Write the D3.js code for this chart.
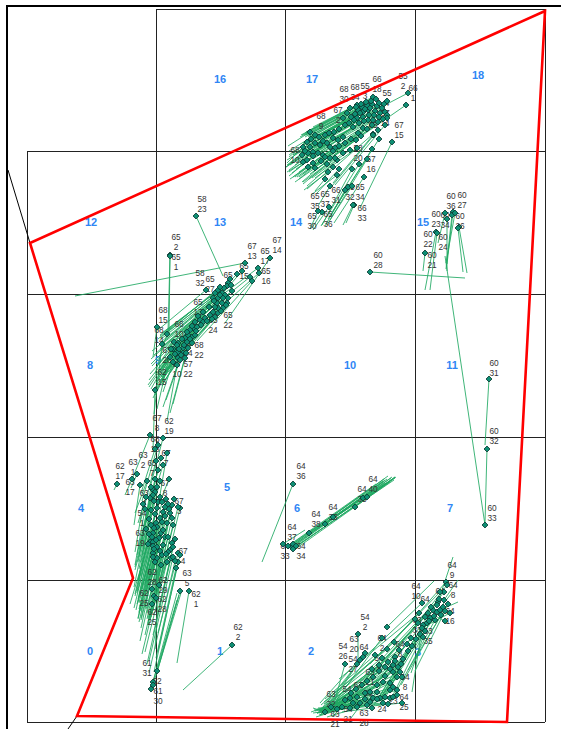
<!DOCTYPE html>
<html><head><meta charset="utf-8">
<script src="https://cdn.jsdelivr.net/npm/d3@7/dist/d3.min.js"></script>
<style>html,body{margin:0;padding:0;background:#fff}svg{display:block}</style>
</head><body><div id="c"></div>
<script>
// survey coordinates: [x, y, shiftX, shiftY]
const northCluster = [[346,88,-60,30],[360,92,-62,32],[381,84,-80,42],[379,96,-72,50],[323,99,-44,24],[330,96,-52,28],[335,98,-56,28],[340,96,-58,31],[345,95,-62,33],[350,97,-64,33],[355,99,-66,36],[331,101,-50,27],[336,103,-54,29],[341,101,-60,32],[348,102,-62,34],[353,104,-66,35],[358,103,-68,38],[360,106,-64,40],[316,109,-36,22],[320,104,-42,24],[330,109,-48,27],[336,108,-52,30],[341,111,-56,32],[346,111,-60,34],[351,113,-62,38],[326,118,-44,30],[331,124,-42,34],[336,119,-50,36],[346,125,-48,42],[283,123,-22,14],[288,126,-26,16],[280,133,-18,15],[276,138,-16,16],[283,138,-22,18],[288,134,-28,17],[293,136,-30,20],[298,126,-32,20],[306,129,-36,24],[303,138,-34,22],[308,139,-36,24],[286,143,-24,18],[291,144,-26,20],[296,146,-30,22],[303,149,-28,24],[310,151,-30,26],[316,144,-34,26],[323,141,-38,28],[330,139,-42,30],[280,151,-20,12],[286,154,-18,14],[275,146,-16,12],[281,144,-22,14],[276,153,-14,10],[316,128,-40,26],[311,131,-38,25],[281,158,-18,12],[288,159,-20,14],[298,148,-28,20],[308,149,-32,24],[301,163,-24,18],[310,166,-26,20],[298,170,-10,12],[303,177,-12,20],[337,168,-30,46],[321,178,-18,30],[325,177,-22,34],[318,181,-20,36],[327,196,-8,18],[326,196,-10,20],[302,198,-16,23],[295,203,-10,16],[291,202,-8,18],[365,133,-32,66],[346,126,-40,48],[358,116,-50,60],[351,121,-46,56],[360,109,-70,46],
[349,90,-68,36],[344,92,-66,34],[339,93,-64,33],[334,95,-60,31],[329,98,-56,30],[352,94,-70,37],[357,95,-72,40],[343,99,-64,35],[338,100,-62,34],[333,104,-56,32],[328,105,-52,30],[324,108,-48,28],[347,106,-68,40],[342,106,-62,36],[337,112,-58,36],[332,114,-52,34],[327,111,-50,32],[322,114,-44,28],[352,108,-66,42],[356,110,-60,44],[318,116,-38,26],[312,120,-34,24],[307,123,-32,22],[302,124,-30,20],[296,132,-28,20],[292,128,-26,18],[300,134,-32,22],[306,142,-34,26],[312,137,-36,28],[318,134,-38,28],[324,130,-42,30],[329,131,-46,34],[334,127,-48,36],[340,120,-52,38],[345,116,-56,40],[286,147,-24,20],[278,142,-18,14],[284,130,-22,16],[294,152,-22,18],[300,155,-24,20],[306,158,-26,22],[312,160,-22,24],[340,150,-40,66],[332,155,-38,62],[325,160,-30,56],[345,140,-44,70],[352,130,-46,72]];
const centreCluster = [[169,207,27,60],[143,246,-2,78],[143,247,-1,76],[218,254,-170,33],[243,249,-45,65],[223,268,-50,40],[231,259,-56,42],[232,264,-52,46],[201,274,-66,50],[200,277,-60,46],[179,281,-48,40],[188,284,-55,42],[191,281,-58,46],[195,284,-60,48],[198,286,-62,48],[186,289,-50,44],[191,289,-55,48],[196,289,-58,50],[201,289,-60,52],[190,294,-50,46],[195,294,-52,50],[200,294,-55,50],[191,299,-50,50],[196,299,-48,52],[186,303,-46,46],[191,304,-44,48],[183,306,-42,46],[178,309,-40,44],[188,308,-42,50],[173,311,-38,44],[168,313,-36,42],[176,313,-38,46],[166,319,-34,40],[163,321,-30,40],[170,318,-36,42],[161,326,-28,38],[165,328,-30,38],[158,329,-26,36],[168,326,-32,40],[147,333,-18,26],[151,334,-20,30],[160,333,-26,34],[165,334,-28,34],[156,339,-22,32],[161,339,-26,36],[151,343,-18,30],[156,344,-20,30],[151,349,-16,28],[143,348,-14,26],[146,353,-10,30],[153,351,-14,40],[158,349,-12,46],[140,325,-12,40],[130,318,-4,30],[128,381,-2,60],
[204,276,-70,54],[197,279,-64,50],[193,286,-68,56],[187,292,-60,54],[182,298,-58,52],[176,303,-52,52],[171,307,-46,50],[165,317,-42,48],[160,323,-38,48],[155,330,-34,46],[150,336,-28,42],[146,340,-22,40],[193,278,-62,52],[205,282,-72,58],[199,296,-62,60],[194,302,-56,60],[188,298,-52,56],[185,310,-50,58],[180,312,-46,56],[174,316,-44,54],[169,322,-40,52],[163,330,-36,50],[157,336,-30,48],[152,340,-24,46],[148,345,-22,44],[154,346,-18,52],[159,344,-16,60],[144,340,-14,60],[135,335,-8,70],[150,356,-10,56],[203,270,-55,70],[210,265,-60,62],[215,262,-50,58],[225,272,-55,60]];
const westCluster = [[123,426,-17,42],[136,429,-13,50],[140,444,-10,60],[134,449,-15,60],[131,461,-12,52],[110,465,-6,14],[105,470,-7,16],[120,472,-12,32],[90,475,-3,6],[125,480,-15,66],[130,478,-14,62],[128,483,-14,70],[126,486,-18,72],[123,489,-12,64],[119,488,-8,26],[131,493,-20,78],[135,493,-16,70],[153,499,-14,58],[151,498,-16,64],[145,496,-14,72],[141,495,-18,80],[138,498,-20,76],[130,499,-16,68],[136,503,-18,72],[143,504,-14,66],[138,507,-18,74],[145,509,-18,82],[124,501,-16,60],[122,510,-10,50],[135,513,-16,70],[129,514,-14,66],[130,518,-18,76],[126,524,-16,60],[134,524,-16,74],[138,528,-14,70],[125,528,-14,62],[123,533,-16,66],[121,535,-18,60],[126,533,-14,70],[126,537,-16,58],[130,538,-18,66],[136,536,-16,74],[145,534,-20,70],[146,538,-14,60],[143,541,-16,52],[141,543,-18,64],[126,544,-14,56],[130,549,-16,62],[126,548,-12,54],[135,546,-14,70],[151,544,-20,80],[153,546,-22,96],[151,553,-24,110],[149,559,-20,90],[132,576,-4,64],[125,580,-6,20],[153,582,-22,78],[162,582,-12,72],[127,587,-4,24],[129,589,-6,22],[125,595,-4,14],[130,662,22,-76],[126,673,24,-82],[126,676,28,-92],[124,680,26,-96],[205,636,-49,45],
[128,470,-16,70],[124,478,-12,70],[133,472,-18,74],[127,492,-16,80],[133,488,-22,84],[139,490,-24,88],[147,490,-22,86],[142,500,-24,86],[128,505,-20,82],[133,509,-22,84],[140,514,-20,90],[146,516,-22,92],[127,519,-18,82],[124,516,-14,66],[132,529,-20,84],[136,521,-22,88],[129,531,-18,78],[141,528,-20,86],[148,530,-22,96],[127,540,-16,70],[133,542,-20,90],[139,545,-24,100],[144,549,-24,106],[148,552,-26,112],[128,553,-14,66],[134,556,-16,70],[140,553,-22,90],[146,548,-24,104],[122,525,-14,60],[119,520,-12,58],[118,500,-10,56],[116,495,-8,48],[113,476,-6,40],[142,470,-12,30],[128,440,-14,44],[131,436,-16,56],[136,456,-18,60],[129,452,-16,62]];
const southCluster = [[331,625,0,28],[318,655,-10,36],[330,655,-28,40],[333,651,-34,52],[336,648,-40,50],[338,644,-45,50],[348,646,-50,44],[355,649,-58,46],[355,629,-50,68],[367,633,-70,60],[384,629,-60,80],[361,653,-60,40],[366,656,-70,46],[371,658,-60,40],[366,663,-62,34],[373,663,-70,36],[370,668,-66,30],[375,668,-74,30],[358,667,-50,30],[363,674,-56,28],[356,673,-50,26],[350,676,-46,24],[366,678,-62,20],[370,681,-70,22],[363,681,-60,20],[350,683,-50,18],[343,683,-46,16],[338,684,-40,20],[330,688,-36,16],[323,689,-30,14],[318,691,-34,12],[333,694,-44,14],[343,693,-56,8],[346,689,-52,14],[358,688,-60,14],[363,689,-40,-4],[370,686,-70,18],[375,694,-80,8],[345,699,-30,4],[330,698,-44,6],[323,699,-30,2],[298,703,-12,-4],[353,689,-54,6],[366,688,-66,20],[419,573,-60,68],[420,576,-50,64],[417,583,-56,70],[413,583,-70,72],[395,594,-66,62],[411,593,-44,70],[410,596,16,-48],[416,598,-46,60],[406,601,-60,78],[410,603,14,-18],[401,604,-66,70],[398,608,-70,74],[403,609,-58,80],[408,611,-40,74],[400,614,-48,78],[396,616,-44,72],[395,619,-10,64],[391,614,-56,60],[360,618,47,-46],[413,601,18,-8],[417,591,14,-20],[396,628,-12,36],
[368,648,-78,56],[372,641,-80,60],[380,635,-74,72],[376,650,-70,54],[360,640,-66,56],[352,656,-60,46],[345,660,-52,46],[358,658,-62,44],[368,652,-72,50],[363,660,-62,40],[374,655,-66,44],[352,662,-54,38],[346,668,-50,34],[340,672,-46,30],[335,676,-42,28],[329,680,-34,22],[324,684,-30,18],[338,690,-48,14],[350,690,-62,12],[356,694,-66,6],[361,695,-70,4],[340,696,-50,8],[326,694,-34,10],[315,698,-22,8],[310,700,-18,6],[304,698,-14,6],[407,607,-52,84],[402,612,-50,80],[398,622,-36,72],[393,625,-40,64],[389,630,-34,60],[385,637,-30,58],[381,642,-34,54],[412,590,-70,80],[404,598,-72,76],[392,604,-80,66],[388,610,-70,68],[414,606,-40,70],[418,602,-30,60],[421,595,-40,66],[418,612,-12,-6],[423,604,-30,16]];
const midCluster = [[266,475,-31,78],[256,535,22,-14],[265,538,100,-70],[266,535,95,-68],[266,540,103,-72],[261,537,88,-62],[269,537,98,-66],[282,524,76,-50],[298,515,60,-44],[306,508,60,-38],[328,498,40,-30],[336,489,28,-18],[340,488,28,-20]];
const midRepeatLines = [[266,538,98,-69],[265,536,92,-66],[267,541,96,-68],[268,535,88,-62],[262,539,84,-58],[266,534,90,-62],[267,539,101,-70],[298,516,62,-46],[282,525,80,-52]];
const eastCluster = [[462,370,-4,66],[460,440,-2,74],[458,516,-40,-269],[343,263,95,6],[432,218,8,46],[431,219,5,44],[426,203,-6,52],[425,206,-6,54],[428,204,-9,50],[418,204,-7,30],[420,210,0,52],[409,223,-11,58],[410,224,-7,57],[398,244,-2,18]];

// text labels: [x, y, line 1, line 2]
const pointLabels = [[376,67,"55","2"],[386,79,"66","1"],[350,70,"66","18"],[317,80,"68","30"],[328,78,"68","34"],[338,77,"55","3"],[360,84,"55","4"],[311,101,"67","2"],[294,107,"68","9"],[268,141,"68","10"],[372,116,"67","15"],[358,104,"67","14"],[344,150,"67","16"],[331,139,"58","20"],[323,178,"65","32"],[333,178,"65","34"],[335,199,"66","33"],[288,187,"65","35"],[298,185,"65","37"],[309,181,"66","31"],[285,207,"65","30"],[301,205,"65","36"],[346,116,"65","6"],
[175,190,"58","23"],[149,228,"65","2"],[149,248,"65","1"],[225,237,"67","13"],[250,231,"67","14"],[238,242,"65","17"],[217,257,"65","15"],[239,262,"65","16"],[173,264,"58","32"],[183,270,"65","27"],[201,266,"65","5"],[171,293,"65","13"],[136,301,"68","15"],[132,321,"68","14"],[152,315,"66","10"],[201,306,"65","22"],[186,311,"65","24"],[172,336,"68","22"],[140,341,"67","20"],[161,334,"66","24"],[150,355,"67","10"],[161,355,"57","22"],[135,363,"62","15"],
[130,409,"67","8"],[142,412,"62","19"],[128,430,"68","18"],[116,446,"63","2"],[106,453,"63","1"],[93,457,"62","17"],[103,473,"63","17"],[125,454,"65","7"],[139,444,"67","7"],[138,474,"67","8"],[117,484,"63","4"],[152,492,"67","3"],[115,504,"54","1"],[113,524,"63","19"],[156,542,"67","4"],[160,564,"63","5"],[169,585,"62","1"],[136,571,"62","29"],[125,563,"62","28"],[117,584,"62","25"],[135,590,"62","28"],[125,603,"62","25"],[211,618,"62","2"],[120,654,"61","31"],[130,672,"62",""],[131,682,"61","30"],
[425,556,"64","9"],[426,576,"64","8"],[423,602,"64","16"],[389,577,"64","10"],[398,590,"64",""],[413,582,"64",""],[390,611,"63","33"],[401,622,"63","35"],[338,608,"54","2"],[327,630,"63","20"],[316,637,"54","26"],[337,638,"64",""],[355,629,"64","2"],[326,650,"54","27"],[352,649,"54","9"],[373,635,"64","8"],[343,663,"63","21"],[320,680,"54",""],[304,685,"63","22"],[308,705,"63","21"],[321,700,"54","21"],[337,704,"63","28"],[355,700,"24",""],[377,688,"64","25"],[378,668,"64","8"],[366,692,"23",""],[331,676,"63",""],[341,684,"63",""],
[274,457,"64","36"],[265,518,"64","37"],[258,537,"64","33"],[274,537,"64","34"],[289,505,"64","38"],[306,498,"64","36"],[335,480,"64","35"],[346,470,"64","40"],
[424,187,"60","36"],[435,186,"60","27"],[409,205,"60","23"],[418,206,"60","34"],[433,207,"60","26"],[416,228,"60","24"],[401,225,"60","22"],[405,246,"60","21"],[351,246,"60","28"],[467,354,"60","31"],[467,422,"60","32"],[465,499,"60","33"]];

const cellLabels = [["16",193,70],["17",285,70],["18",451,66],["12",64,213],["13",193,213],["14",269,213],["15",396,213],["8",63,356],["9",131,351],["10",323,356],["11",425,356],["4",54,499],["5",200,478],["6",270,499],["7",423,499],["0",63,642],["1",193,642],["2",284,642],["3",391,643]];
const gridColumns = [0,129,258,388,518];
const gridRows = [0,142,285,428,571,713];
const boundary = [[518,2],[3,234],[106,569],[50,707],[480,713]];
const stubs = [[[-19,161],[3,234]],[[50,707],[41,720]]];

const svg = d3.select("#c").append("svg").attr("width",561).attr("height",729);
const x = d3.scaleLinear().domain([0,518]).range([27,545]);
const y = d3.scaleLinear().domain([0,713]).range([9,722]);

// outer frame
svg.append("path").attr("d","M7,729V6H561").attr("fill","none").attr("stroke","#000").attr("stroke-width",2);

// grid
const grid = svg.append("g").attr("stroke","#222").attr("stroke-width",1).attr("shape-rendering","crispEdges");
gridColumns.forEach((c,i)=>grid.append("line").attr("x1",x(c)).attr("x2",x(c)).attr("y1",y(i===0?gridRows[1]:gridRows[0])).attr("y2",y(gridRows[5])));
gridRows.forEach((r,i)=>grid.append("line").attr("y1",y(r)).attr("y2",y(r)).attr("x1",x(i===0?gridColumns[1]:gridColumns[0])).attr("x2",x(gridColumns[4])));

// cell numbers
svg.append("g").selectAll("text").data(cellLabels).join("text")
  .attr("x",d=>x(d[1])).attr("y",d=>y(d[2])).attr("dy","0.35em").attr("text-anchor","middle")
  .attr("font-family","'Liberation Sans',Arial,sans-serif").attr("font-size",11).attr("font-weight","bold")
  .attr("fill","#2f86f5").text(d=>d[0]);

const allPoints = [...northCluster,...centreCluster,...westCluster,...southCluster,...midCluster,...eastCluster];
const allLines = [...allPoints,...midRepeatLines];

// displacement lines
svg.append("g").attr("stroke","#1fa862").attr("stroke-width",1).attr("stroke-opacity",0.85)
  .selectAll("line").data(allLines).join("line")
  .attr("x1",d=>x(d[0])).attr("y1",d=>y(d[1]))
  .attr("x2",d=>x(d[0]+d[2])).attr("y2",d=>y(d[1]+d[3]));

// text labels
const lab = svg.append("g").attr("font-family","'Liberation Sans',Arial,sans-serif").attr("font-size",8.3).attr("fill","#333").attr("text-anchor","middle");
pointLabels.forEach(d=>{
  lab.append("text").attr("x",x(d[0])).attr("y",y(d[1])).attr("dy","0.35em").text(d[2]);
  if(d[3]) lab.append("text").attr("x",x(d[0])).attr("y",y(d[1]+10)).attr("dy","0.35em").text(d[3]);
});

// stations
svg.append("g").selectAll("rect").data(allPoints).join("rect")
  .attr("x",-2.1).attr("y",-2.1).attr("width",4.2).attr("height",4.2)
  .attr("transform",d=>`translate(${x(d[0])},${y(d[1])}) rotate(45)`)
  .attr("fill","#0e8f74").attr("stroke","#0c3a33").attr("stroke-width",0.8);

// boundary
const line = d3.line().x(d=>x(d[0])).y(d=>y(d[1]));
svg.append("g").selectAll("path").data(stubs).join("path").attr("d",line).attr("fill","none").attr("stroke","#000").attr("stroke-width",1);
svg.append("path").attr("d",line(boundary)+"Z").attr("fill","none").attr("stroke","#f00").attr("stroke-width",2.6).attr("stroke-linejoin","miter");
</script></body></html>
